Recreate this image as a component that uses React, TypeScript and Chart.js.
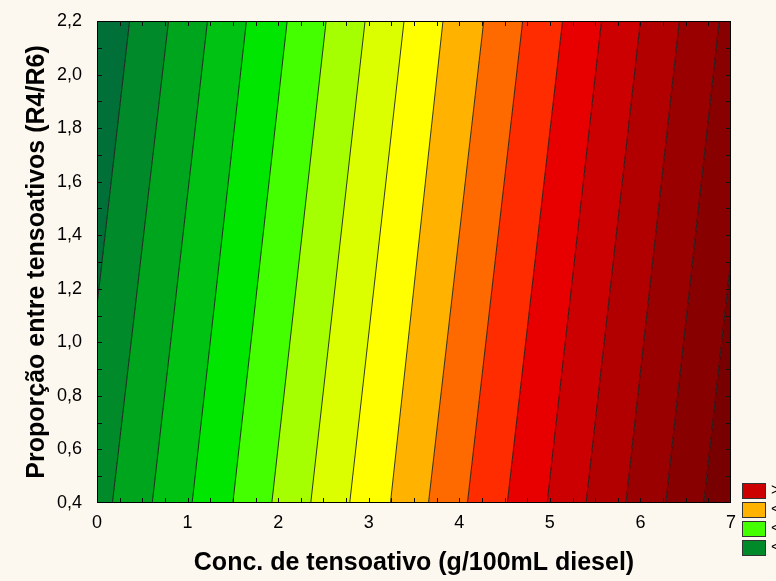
import React, { useEffect, useRef } from "react";
import { Chart, registerables } from "chart.js";

Chart.register(...registerables);

// ---- axis ranges / ticks ----
const X_MIN = 0;
const X_MAX = 7;
const Y_MIN = 0.4;
const Y_MAX = 2.2;
const xTickValues = [0, 1, 2, 3, 4, 5, 6, 7];
const yTickValues = [0.4, 0.6, 0.8, 1.0, 1.2, 1.4, 1.6, 1.8, 2.0, 2.2];

// ---- contour lines: x where each level line meets y = 0.4 and y = 2.2 ----
const contourXAtBottom = [-0.25, 0.17, 0.61, 1.05, 1.5, 1.93, 2.36, 2.79, 3.24, 3.66, 4.09, 4.53, 4.97, 5.4, 5.84, 6.28, 6.7];
const contourXAtTop = [0.36, 0.79, 1.22, 1.65, 2.1, 2.53, 2.96, 3.39, 3.82, 4.27, 4.7, 5.14, 5.57, 6.0, 6.43, 6.87, 7.29];

// ---- band palette (left -> right) ----
const bandColors = [
  "#006f38", "#008a2a", "#00a51e", "#00c212", "#00e600", "#44ff00",
  "#a6ff00", "#dcff00", "#ffff00", "#ffb300", "#ff6a00", "#ff2c00",
  "#e80000", "#cc0000", "#b20000", "#9a0000", "#880000", "#780000",
];

// ---- legend (partly cut off at the right edge) ----
const legendLabels = ["> 2,4", "< 2,0", "< 1,2", "< 0,4"];
const legendBand = [13, 9, 5, 1];

const xTitle = "Conc. de tensoativo (g/100mL diesel)";
const yTitle = "Proporção entre tensoativos (R4/R6)";

const FONT = "'Liberation Sans', Arial, sans-serif";

export default function App() {
  const ref = useRef<HTMLCanvasElement | null>(null);

  useEffect(() => {
    const canvas = ref.current;
    if (!canvas) return;
    const last = bandColors.length - 1;

    const polygons = bandColors.map((color, k) => {
      const leftB = k === 0 ? X_MIN - 1 : contourXAtBottom[k - 1];
      const leftT = k === 0 ? X_MIN - 1 : contourXAtTop[k - 1];
      const rightB = k === last ? X_MAX + 1 : contourXAtBottom[k];
      const rightT = k === last ? X_MAX + 1 : contourXAtTop[k];
      return {
        type: "line" as const,
        data: [
          { x: rightB, y: Y_MIN },
          { x: rightT, y: Y_MAX },
          { x: leftT, y: Y_MAX },
          { x: leftB, y: Y_MIN },
          { x: rightB, y: Y_MIN },
        ],
        showLine: true,
        fill: "shape",
        backgroundColor: color,
        borderColor: color,
        borderWidth: 0,
        pointRadius: 0,
        tension: 0,
        clip: 0,
        order: 2,
      };
    });

    const lines = contourXAtBottom.map((b, i) => ({
      type: "line" as const,
      data: [
        { x: b, y: Y_MIN },
        { x: contourXAtTop[i], y: Y_MAX },
      ],
      showLine: true,
      fill: false,
      borderColor: "rgba(20,20,20,0.85)",
      borderWidth: 1,
      pointRadius: 0,
      tension: 0,
      clip: 0,
      order: 1,
    }));

    const framePlugin = {
      id: "frameTicks",
      afterDatasetsDraw(chart: any) {
        const { ctx, chartArea: a, scales } = chart;
        const x = scales.x;
        const y = scales.y;
        ctx.save();
        ctx.strokeStyle = "#111";
        ctx.lineWidth = 1;
        ctx.beginPath();
        const nx = Math.round((X_MAX - X_MIN) / 0.25);
        for (let i = 1; i < nx; i++) {
          const px = Math.round(x.getPixelForValue(X_MIN + i * 0.25)) + 0.5;
          ctx.moveTo(px, a.bottom);
          ctx.lineTo(px, a.bottom - 5);
          ctx.moveTo(px, a.top);
          ctx.lineTo(px, a.top + 5);
        }
        const ny = Math.round((Y_MAX - Y_MIN) / 0.1);
        for (let i = 1; i < ny; i++) {
          const py = Math.round(y.getPixelForValue(Y_MIN + i * 0.1)) + 0.5;
          ctx.moveTo(a.left, py);
          ctx.lineTo(a.left + 5, py);
          ctx.moveTo(a.right, py);
          ctx.lineTo(a.right - 5, py);
        }
        ctx.stroke();
        ctx.strokeStyle = "#000";
        ctx.strokeRect(Math.round(a.left) + 0.5, Math.round(a.top) + 0.5, Math.round(a.right - a.left) - 1, Math.round(a.bottom - a.top) - 1);
        ctx.restore();
      },
      afterDraw(chart: any) {
        const { ctx, chartArea: a } = chart;
        ctx.save();
        const x0 = a.right + 11;
        const w = 24;
        const h = 16;
        const gap = 3;
        const y0 = a.bottom - 20;
        legendLabels.forEach((label, i) => {
          const yy = y0 + i * (h + gap);
          ctx.fillStyle = bandColors[legendBand[i]];
          ctx.fillRect(x0, yy, w, h);
          ctx.strokeStyle = "#333";
          ctx.lineWidth = 1;
          ctx.strokeRect(x0 + 0.5, yy + 0.5, w - 1, h - 1);
          ctx.fillStyle = "#000";
          ctx.font = `16px ${FONT}`;
          ctx.textBaseline = "middle";
          ctx.textAlign = "left";
          ctx.fillText(label, x0 + w + 5, yy + h / 2);
        });
        ctx.restore();
      },
    };

    const chart = new Chart(canvas, {
      type: "scatter",
      data: { datasets: [...polygons, ...lines] as any },
      options: {
        animation: false,
        responsive: false,
        devicePixelRatio: 1,
        events: [],
        layout: { padding: { left: 0, top: 21, right: 45, bottom: 0 } },
        plugins: { legend: { display: false }, tooltip: { enabled: false } },
        scales: {
          x: {
            type: "linear",
            min: X_MIN,
            max: X_MAX,
            afterBuildTicks: (s: any) => {
              s.ticks = xTickValues.map((v) => ({ value: v }));
            },
            afterFit: (s: any) => {
              s.height = 78;
              s.paddingLeft = 0;
              s.paddingRight = 0;
            },
            ticks: {
              color: "#000",
              font: { family: FONT, size: 18 },
              padding: 9,
              maxRotation: 0,
              callback: (v: any) => String(v),
            },
            grid: { display: false, drawTicks: false },
            border: { display: false },
            title: {
              display: true,
              text: xTitle,
              color: "#000",
              font: { family: FONT, size: 25, weight: "bold" },
              padding: { top: 0, bottom: 3 },
            },
          },
          y: {
            type: "linear",
            min: Y_MIN,
            max: Y_MAX,
            afterBuildTicks: (s: any) => {
              s.ticks = yTickValues.map((v) => ({ value: v }));
            },
            afterFit: (s: any) => {
              s.width = 97;
              s.paddingTop = 0;
              s.paddingBottom = 0;
            },
            ticks: {
              color: "#000",
              font: { family: FONT, size: 18 },
              padding: 15,
              callback: (v: any) => Number(v).toFixed(1).replace(".", ","),
            },
            grid: { display: false, drawTicks: false },
            border: { display: false },
            title: {
              display: true,
              text: yTitle,
              color: "#000",
              font: { family: FONT, size: 25, weight: "bold" },
              padding: { top: 22, bottom: 0 },
            },
          },
        },
      },
      plugins: [framePlugin],
    } as any);

    return () => chart.destroy();
  }, []);

  return (
    <div
      style={{
        position: "fixed",
        left: 0,
        top: 0,
        width: 776,
        height: 581,
        background: "#fdf8ef",
        overflow: "hidden",
      }}
    >
      <canvas ref={ref} width={776} height={581} style={{ display: "block", width: 776, height: 581 }} />
    </div>
  );
}
